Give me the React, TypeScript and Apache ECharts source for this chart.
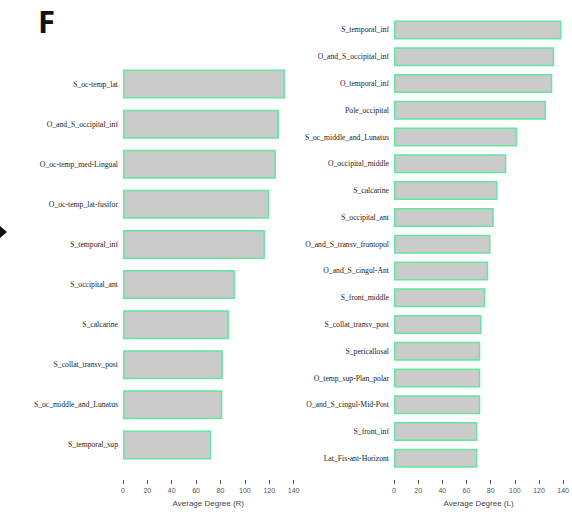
import React, { useEffect, useRef } from "react";
import * as echarts from "echarts";

// Right hemisphere regions, highest average degree first
const rightRegions = [
  "S_oc-temp_lat",
  "O_and_S_occipital_inf",
  "O_oc-temp_med-Lingual",
  "O_oc-temp_lat-fusifor",
  "S_temporal_inf",
  "S_occipital_ant",
  "S_calcarine",
  "S_collat_transv_post",
  "S_oc_middle_and_Lunatus",
  "S_temporal_sup",
];
const rightDegree = [133, 128, 125.5, 120, 116.5, 92, 87, 82, 81.5, 72.5];

// Left hemisphere regions
const leftRegions = [
  "S_temporal_inf",
  "O_and_S_occipital_inf",
  "O_temporal_inf",
  "Pole_occipital",
  "S_oc_middle_and_Lunatus",
  "O_occipital_middle",
  "S_calcarine",
  "S_occipital_ant",
  "O_and_S_transv_frontopol",
  "O_and_S_cingul-Ant",
  "S_front_middle",
  "S_collat_transv_post",
  "S_pericallosal",
  "O_temp_sup-Plan_polar",
  "O_and_S_cingul-Mid-Post",
  "S_front_inf",
  "Lat_Fis-ant-Horizont",
];
const leftDegree = [
  138.6, 132.6, 131, 125.8, 101.9, 93, 85.7, 82.6, 79.9, 78, 75.5, 72.5, 71.4,
  71.4, 71.4, 69, 69,
];

const axisMax = 140;
const axisStep = 20;
const panelLetter = "F";

const barFill = "#cbcbcb";
const barEdge = "#62e6a2";
const labelFont = "'Liberation Serif', 'Times New Roman', serif";
const axisFont = "'Liberation Sans', Arial, sans-serif";

function valueAxis(gridIndex: number, name: string, offset: number) {
  return {
    type: "value",
    gridIndex,
    min: 0,
    max: axisMax,
    interval: axisStep,
    position: "bottom",
    offset,
    name,
    nameLocation: "middle",
    nameGap: 19,
    nameTextStyle: { fontFamily: axisFont, fontSize: 8, color: "#444" },
    axisLine: { show: false },
    axisTick: { show: true, length: 4, lineStyle: { color: "#555", width: 1 } },
    axisLabel: {
      margin: 7,
      fontFamily: axisFont,
      fontSize: 7,
      color: "#555",
    },
    splitLine: { show: false },
  };
}

function categoryAxis(gridIndex: number, data: string[]) {
  return {
    type: "category",
    gridIndex,
    data,
    inverse: true,
    axisLine: { show: false },
    axisTick: { show: false },
    axisLabel: {
      margin: 5,
      fontFamily: labelFont,
      fontSize: 7.7,
      color: "#222",
      interval: 0,
    },
  };
}

function barSeries(index: number, data: number[], width: number) {
  return {
    type: "bar",
    xAxisIndex: index,
    yAxisIndex: index,
    data,
    barWidth: width,
    itemStyle: { color: barFill, borderColor: barEdge, borderWidth: 1.5 },
    silent: true,
  };
}

export default function App() {
  const ref = useRef<HTMLDivElement>(null);

  useEffect(() => {
    if (!ref.current) return;
    const chart = echarts.init(ref.current, undefined, { renderer: "svg" });
    chart.setOption({
      animation: false,
      backgroundColor: "#ffffff",
      grid: [
        { left: 123, top: 64, width: 170.6, height: 402 },
        { left: 394, top: 16.6, width: 170, height: 456 },
      ],
      xAxis: [
        valueAxis(0, "Average Degree (R)", 15),
        valueAxis(1, "Average Degree (L)", 8.3),
      ],
      yAxis: [categoryAxis(0, rightRegions), categoryAxis(1, leftRegions)],
      series: [barSeries(0, rightDegree, 29), barSeries(1, leftDegree, 19)],
      graphic: [
        {
          type: "text",
          left: 38,
          top: 5,
          style: {
            text: panelLetter,
            fontFamily: "'Open Sans', 'DejaVu Sans', sans-serif",
            fontWeight: "bold",
            fontSize: 31,
            fill: "#111",
          },
        },
        {
          type: "polygon",
          shape: {
            points: [
              [0, 226],
              [7, 232],
              [0, 238],
            ],
          },
          style: { fill: "#111" },
        },
      ],
    });
    return () => chart.dispose();
  }, []);

  return (
    <div
      ref={ref}
      style={{ position: "fixed", left: 0, top: 0, width: 572, height: 512 }}
    />
  );
}
